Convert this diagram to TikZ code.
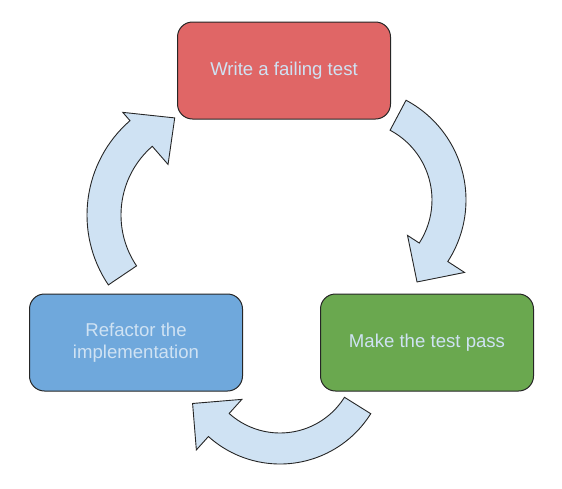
\documentclass[tikz,border=0pt]{standalone}
\usepackage{fontspec}
\setmainfont{Liberation Sans}
\usepackage{tikz}
\usetikzlibrary{positioning}
\definecolor{failred}{HTML}{E06666}
\definecolor{passgreen}{HTML}{6AA84F}
\definecolor{refactorblue}{HTML}{6FA8DC}
\definecolor{turnfill}{HTML}{CFE2F3}

\begin{document}
\begin{tikzpicture}[x=1pt, y=1pt, font=\fontsize{18.6}{22}\selectfont,
    stage/.style={draw=black!85, line width=1pt, rounded corners=15pt, minimum width=213pt, minimum height=97pt, inner sep=0pt, text=turnfill, align=center},
    turnarrow/.style={draw=black!85, line width=0.9pt, fill=turnfill}]
    \useasboundingbox (0,0) rectangle (562,-488);
    \node[stage, fill=failred](write) at (284,-70.5){Write a failing test};
    \node[stage, fill=passgreen, below right=174pt and -71pt of write](pass){Make the test pass};
    \node[stage, fill=refactorblue, left=77pt of pass](refactor){Refactor the\\implementation};
    % centres of the three turning arrows
    \coordinate (topass) at (353,-200);
    \coordinate (torefactor) at (280,-357);
    \coordinate (towrite) at (212,-215);
    \draw[turnarrow, shift={(topass)}] (62:113) arc[start angle=62, end angle=-33, radius=113]
        -- (-33:133) -- (-52:104) -- (-33:65) -- (-33:79) arc[start angle=-33, end angle=62, radius=79] -- cycle;
    \draw[turnarrow, shift={(torefactor)}] (-32:107) arc[start angle=-32, end angle=-132, radius=107]
        -- (-132:125) -- (-152:99) -- (-132:57) -- (-132:76) arc[start angle=-132, end angle=-32, radius=76] -- cycle;
    \draw[turnarrow, shift={(towrite)}] (214:125) arc[start angle=214, end angle=131, radius=125]
        -- (131:136) -- (111:104) -- (131:67) -- (131:91) arc[start angle=131, end angle=214, radius=91] -- cycle;
\end{tikzpicture}
\end{document}
